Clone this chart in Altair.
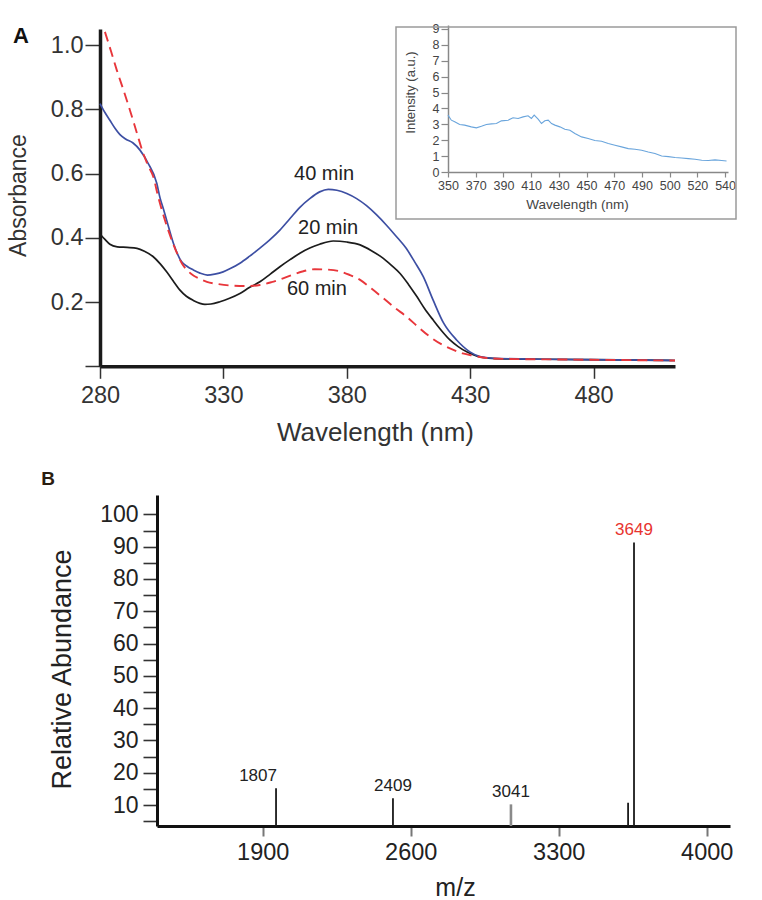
import json
import altair as alt
import pandas as pd

FONT = "Liberation Sans, Arial, Helvetica, sans-serif"

# ---------------- Panel A: UV-vis absorbance ----------------
A_SERIES = ["20 min", "40 min", "60 min"]
A_WL_20 = [280, 282, 284, 287, 291, 295, 298, 301.6, 304.5, 307, 310, 312.4, 315, 317.8, 320.5, 322.5,
           325, 328.6, 332.5, 336.7, 340.5, 344.8, 349, 352.9, 357, 361, 365, 369, 374.5, 380, 385.4,
           390, 394.8, 398, 401.6, 405, 408.4, 411.5, 415, 418.5, 421.8, 425, 428.6, 431.5, 434, 437,
           440, 460, 490, 513]
A_ABS_20 = [0.412, 0.395, 0.38, 0.372, 0.37, 0.367, 0.358, 0.341, 0.318, 0.294, 0.262, 0.237, 0.218,
            0.205, 0.196, 0.193, 0.194, 0.201, 0.212, 0.227, 0.245, 0.263, 0.287, 0.31, 0.332, 0.352,
            0.368, 0.38, 0.39, 0.387, 0.378, 0.36, 0.336, 0.315, 0.289, 0.255, 0.217, 0.18, 0.144,
            0.11, 0.082, 0.062, 0.045, 0.035, 0.029, 0.026, 0.024, 0.022, 0.02, 0.018]
A_WL_40 = [280, 282, 284, 286, 288, 290.5, 293.4, 296.2, 299.5, 303, 304.3, 305.7, 307, 309.7, 313,
           315.5, 317.8, 320.5, 323.5, 326.5, 329.9, 333, 336.7, 340.5, 344.8, 349, 352.9, 357, 361,
           365, 369, 372.5, 376, 380, 384, 388, 392, 396, 400, 404, 407.5, 411, 415, 419.2, 424.5,
           429.9, 434, 439, 460, 490, 513]
A_ABS_40 = [0.818, 0.79, 0.766, 0.742, 0.722, 0.707, 0.695, 0.673, 0.632, 0.57, 0.525, 0.49, 0.455,
            0.384, 0.326, 0.31, 0.30, 0.29, 0.284, 0.287, 0.294, 0.305, 0.321, 0.342, 0.368, 0.395,
            0.424, 0.46, 0.495, 0.522, 0.543, 0.551, 0.548, 0.538, 0.522, 0.5, 0.472, 0.44, 0.405,
            0.368, 0.325, 0.279, 0.206, 0.135, 0.082, 0.045, 0.03, 0.025, 0.022, 0.02, 0.018]
A_WL_60 = [282, 284.5, 286.8, 289.5, 292.1, 295, 297.5, 299.5, 301.6, 303.5, 305.7, 308.5, 311.2,
           313.2, 315.2, 318, 320.5, 323.3, 328, 334, 340, 344.8, 349.5, 354.2, 358, 362, 367, 372,
           376.5, 381, 385.4, 390, 394.8, 399.5, 404.3, 409, 413.7, 418.5, 423.2, 427, 431.3, 436.7,
           445, 470, 513]
A_ABS_60 = [1.041, 0.98, 0.922, 0.86, 0.798, 0.725, 0.663, 0.625, 0.59, 0.53, 0.47, 0.405, 0.352,
            0.32, 0.30, 0.282, 0.272, 0.263, 0.256, 0.251, 0.25, 0.253, 0.262, 0.274, 0.285, 0.295,
            0.302, 0.301, 0.297, 0.285, 0.269, 0.242, 0.212, 0.182, 0.154, 0.122, 0.092, 0.068,
            0.051, 0.04, 0.033, 0.026, 0.023, 0.021, 0.018]
A_LABEL_TEXT = ["20 min", "40 min", "60 min"]
A_LABEL_WL = [372.4, 370.8, 367.9]
A_LABEL_ABS = [0.430, 0.598, 0.241]
A_XTICKS = [280, 330, 380, 430, 480]
A_YTICKS = [0, 0.2, 0.4, 0.6, 0.8, 1.0]

# ---------------- Inset: fluorescence emission ----------------
INSET_WL = [350, 352.3, 354.6, 358, 361.4, 366, 369.5, 372.9, 376.3, 379.8, 383.2, 386.6, 391.2,
            394.6, 398.1, 401.5, 404.9, 407.2, 409.1, 411.8, 414.1, 416.4, 418.7, 421, 423.3, 426.7,
            430.1, 433.6, 437, 441.6, 446.1, 450.7, 455.3, 459.9, 464.5, 469, 473.6, 478.2, 482.8,
            487.3, 491.9, 496.5, 501.1, 505.7, 510.2, 514.8, 519.4, 524, 528.5, 533.1, 537.7, 541]
INSET_INT = [3.58, 3.26, 3.16, 2.99, 2.95, 2.84, 2.78, 2.88, 2.99, 3.03, 3.05, 3.22, 3.26, 3.41,
             3.37, 3.47, 3.54, 3.37, 3.58, 3.33, 3.05, 3.22, 3.26, 3.05, 2.95, 2.84, 2.69, 2.63,
             2.42, 2.21, 2.11, 1.98, 1.94, 1.79, 1.68, 1.58, 1.47, 1.43, 1.37, 1.26, 1.16, 1.01,
             0.97, 0.91, 0.88, 0.84, 0.80, 0.74, 0.72, 0.76, 0.72, 0.69]
INSET_TICK_LABELS = ["350", "370", "390", "410", "430", "450", "470", "490", "500", "520", "540"]
INSET_YTICKS = [0, 1, 2, 3, 4, 5, 6, 7, 8, 9]

# ---------------- Panel B: mass spectrum ----------------
B_MZ = [1963, 2516, 3074, 3628, 3656]
B_ABUND = [15.2, 12.1, 10.2, 10.7, 91.3]
B_LABELS = ["1807", "2409", "3041", "", "3649"]
B_XTICKS = [1900, 2600, 3300, 4000]
B_YTICKS = list(range(5, 101, 5))

# ---------------- layout (page pixels) ----------------
W, H = 762, 900
A_X0, A_X1, A_Y0, A_YTOP = 100, 675, 366.3, 29
IN_X0, IN_X1, IN_Y0, IN_YTOP = 448, 728, 172, 25
B_X0, B_X1, B_Y0, B_YTOP = 157, 730, 826, 495
B_BASE = 3.5

# ---------------- Panel A ----------------
a_df = pd.concat([
    pd.DataFrame({"wl": A_WL_20, "absorb": A_ABS_20, "series": A_SERIES[0]}),
    pd.DataFrame({"wl": A_WL_40, "absorb": A_ABS_40, "series": A_SERIES[1]}),
    pd.DataFrame({"wl": A_WL_60, "absorb": A_ABS_60, "series": A_SERIES[2]}),
])
a_lab = pd.DataFrame({"wl": A_LABEL_WL, "absorb": A_LABEL_ABS, "label": A_LABEL_TEXT})

a_x = alt.X("wl:Q",
            scale=alt.Scale(domain=[280, 513], range=[A_X0, A_X1], nice=False, zero=False),
            axis=alt.Axis(orient="bottom", offset=A_Y0 - H, values=A_XTICKS, format="d", grid=False,
                          labelFlush=False, labelOverlap=False,
                          domainColor="#1a1a1a", domainWidth=3.5, tickColor="#333", tickWidth=1.5,
                          tickSize=12, labelFont=FONT, labelFontSize=23.5, labelColor="#333",
                          labelPadding=5, title="Wavelength (nm)", titleFont=FONT, titleFontSize=26,
                          titleFontWeight="normal", titleColor="#333", titleX=375, titleY=74,
                          titleBaseline="alphabetic", titleAlign="center"))
a_y = alt.Y("absorb:Q",
            scale=alt.Scale(domain=[0, 1.05], range=[A_Y0, A_YTOP], nice=False, zero=False),
            axis=alt.Axis(orient="left", offset=-A_X0, values=A_YTICKS, grid=False,
                          labelFlush=False, labelOverlap=False,
                          labelExpr="datum.value == 0 ? '' : format(datum.value, '.1f')",
                          domainColor="#1a1a1a", domainWidth=3.5, tickColor="#333", tickWidth=1.5,
                          tickSize=15, labelFont=FONT, labelFontSize=23.5, labelColor="#333",
                          labelPadding=2, title="Absorbance", titleFont=FONT, titleFontSize=23,
                          titleFontWeight="normal", titleColor="#333", titleAngle=270,
                          titleX=25 - A_X0, titleY=195, titleBaseline="alphabetic",
                          titleAlign="center"))
a_color = alt.Color("series:N", legend=None,
                    scale=alt.Scale(domain=A_SERIES, range=["#1c1c1c", "#3d4fa3", "#e8363b"]))

a_solid = alt.Chart(a_df).transform_filter(
    alt.FieldOneOfPredicate(field="series", oneOf=A_SERIES[:2])
).mark_line(strokeWidth=1.7, interpolate="monotone").encode(x=a_x, y=a_y, color=a_color, detail="series:N")
a_dash = alt.Chart(a_df).transform_filter(
    alt.FieldEqualPredicate(field="series", equal=A_SERIES[2])
).mark_line(strokeWidth=1.9, strokeDash=[10, 6], interpolate="monotone").encode(x=a_x, y=a_y, color=a_color)
a_text = alt.Chart(a_lab).mark_text(font=FONT, fontSize=20, color="#222", align="center",
                                    baseline="middle").encode(x=a_x, y=a_y, text="label:N")
panel_a = alt.layer(a_solid, a_dash, a_text)

# ---------------- Inset ----------------
in_df = pd.DataFrame({"wl": INSET_WL, "inten": INSET_INT})
in_ticks = [350 + 19 * i for i in range(len(INSET_TICK_LABELS))]
in_label_expr = f"{json.dumps(INSET_TICK_LABELS)}[round((datum.value - 350) / 19)]"
inset = alt.Chart(in_df).mark_line(color="#6aa5dc", strokeWidth=1.1).encode(
    x=alt.X("wl:Q",
            scale=alt.Scale(domain=[350, 542], range=[IN_X0, IN_X1], nice=False, zero=False),
            axis=alt.Axis(orient="bottom", offset=IN_Y0 - H, values=in_ticks, labelExpr=in_label_expr,
                          labelFlush=False, labelOverlap=False,
                          grid=False, domainColor="#888", domainWidth=1.5, tickColor="#888",
                          tickWidth=1.2, tickSize=5, labelFont=FONT, labelFontSize=12.5,
                          labelColor="#444", labelPadding=2, title="Wavelength (nm)",
                          titleFont=FONT, titleFontSize=13.5, titleFontWeight="normal",
                          titleColor="#444", titleX=577, titleY=36, titleBaseline="alphabetic",
                          titleAlign="center")),
    y=alt.Y("inten:Q",
            scale=alt.Scale(domain=[0, 9.25], range=[IN_Y0, IN_YTOP], nice=False, zero=False),
            axis=alt.Axis(orient="left", offset=-IN_X0, values=INSET_YTICKS, grid=False,
                          labelFlush=False, labelOverlap=False,
                          domainColor="#888", domainWidth=1.5, tickColor="#888", tickWidth=1.2,
                          tickSize=7, labelFont=FONT, labelFontSize=12.5, labelColor="#444",
                          labelPadding=2, title="Intensity (a.u.)", titleFont=FONT,
                          titleFontSize=13, titleFontWeight="normal", titleColor="#444",
                          titleAngle=270, titleX=414 - IN_X0, titleY=92,
                          titleBaseline="alphabetic", titleAlign="center")),
)

# ---------------- Panel B ----------------
b_df = pd.DataFrame({"mz": B_MZ, "abund": B_ABUND, "label": B_LABELS})
b_x = alt.X("mz:Q",
            scale=alt.Scale(domain=[1400, 4110], range=[B_X0, B_X1], nice=False, zero=False),
            axis=alt.Axis(orient="bottom", offset=B_Y0 - H, values=B_XTICKS, format="d", grid=False,
                          labelFlush=False, labelOverlap=False,
                          domainColor="#111", domainWidth=3, tickColor="#777", tickWidth=2,
                          tickSize=10, labelFont=FONT, labelFontSize=23.5, labelColor="#222",
                          labelPadding=4, title="m/z", titleFont=FONT, titleFontSize=25,
                          titleFontWeight="normal", titleColor="#222", titleX=455, titleY=69,
                          titleBaseline="alphabetic", titleAlign="center"))
b_y = alt.Y("abund:Q",
            scale=alt.Scale(domain=[B_BASE, 106], range=[B_Y0, B_YTOP], nice=False, zero=False),
            axis=alt.Axis(orient="left", offset=-B_X0, values=B_YTICKS, grid=False,
                          labelFlush=False, labelOverlap=False,
                          labelExpr="datum.value % 10 == 0 ? format(datum.value, 'd') : ''",
                          domainColor="#111", domainWidth=3, tickColor="#333", tickWidth=1.6,
                          tickSize=14, labelFont=FONT, labelFontSize=23, labelColor="#222",
                          labelPadding=5, title="Relative Abundance", titleFont=FONT,
                          titleFontSize=27, titleFontWeight="normal", titleColor="#222",
                          titleAngle=270, titleX=70 - B_X0, titleY=669,
                          titleBaseline="alphabetic", titleAlign="center"))

b_rules = alt.Chart(b_df).mark_rule().encode(
    x=b_x, y=b_y, y2=alt.datum(B_BASE),
    color=alt.condition("datum.label == '3041'", alt.value("#8a8a8a"), alt.value("#1a1a1a")),
    strokeWidth=alt.condition("datum.label == '3041'", alt.value(2.6), alt.value(1.8)),
)
b_text_main = alt.Chart(b_df).transform_filter(
    "datum.label != '' && datum.label != '1807'"
).mark_text(font=FONT, fontSize=17, baseline="middle", align="center", dy=-12).encode(
    x=b_x, y=b_y, text="label:N",
    color=alt.condition("datum.label == '3649'", alt.value("#e8342f"), alt.value("#222")),
)
b_text_first = alt.Chart(b_df).transform_filter(
    "datum.label == '1807'"
).mark_text(font=FONT, fontSize=17, baseline="middle", align="center", dy=-12, dx=-18,
            color="#222").encode(x=b_x, y=b_y, text="label:N")
panel_b = alt.layer(b_rules, b_text_main, b_text_first)

# ---------------- decorations ----------------
one = pd.DataFrame({"t": ["A"]})
frame = alt.Chart(one).mark_rect(fill="transparent", stroke="#9a9a9a", strokeWidth=1.5).encode(
    x=alt.value(396), x2=alt.value(736), y=alt.value(27), y2=alt.value(219))
letter_a = alt.Chart(pd.DataFrame({"t": ["A"]})).mark_text(
    font=FONT, fontSize=22, fontWeight="bold", color="#111", align="center", baseline="middle"
).encode(x=alt.value(21), y=alt.value(36), text="t:N")
letter_b = alt.Chart(pd.DataFrame({"t": ["B"]})).mark_text(
    font=FONT, fontSize=19, fontWeight="bold", color="#2a1d10", align="center", baseline="middle"
).encode(x=alt.value(48), y=alt.value(479), text="t:N")

chart = alt.layer(frame, letter_a, letter_b, panel_a, inset, panel_b).resolve_scale(
    x="independent", y="independent", color="independent"
).properties(
    width=W, height=H, padding=0, autosize=alt.AutoSizeParams(type="none"), background="white"
).configure_view(stroke="transparent")

chart.save("out.html", embed_options={"renderer": "svg", "actions": False})
